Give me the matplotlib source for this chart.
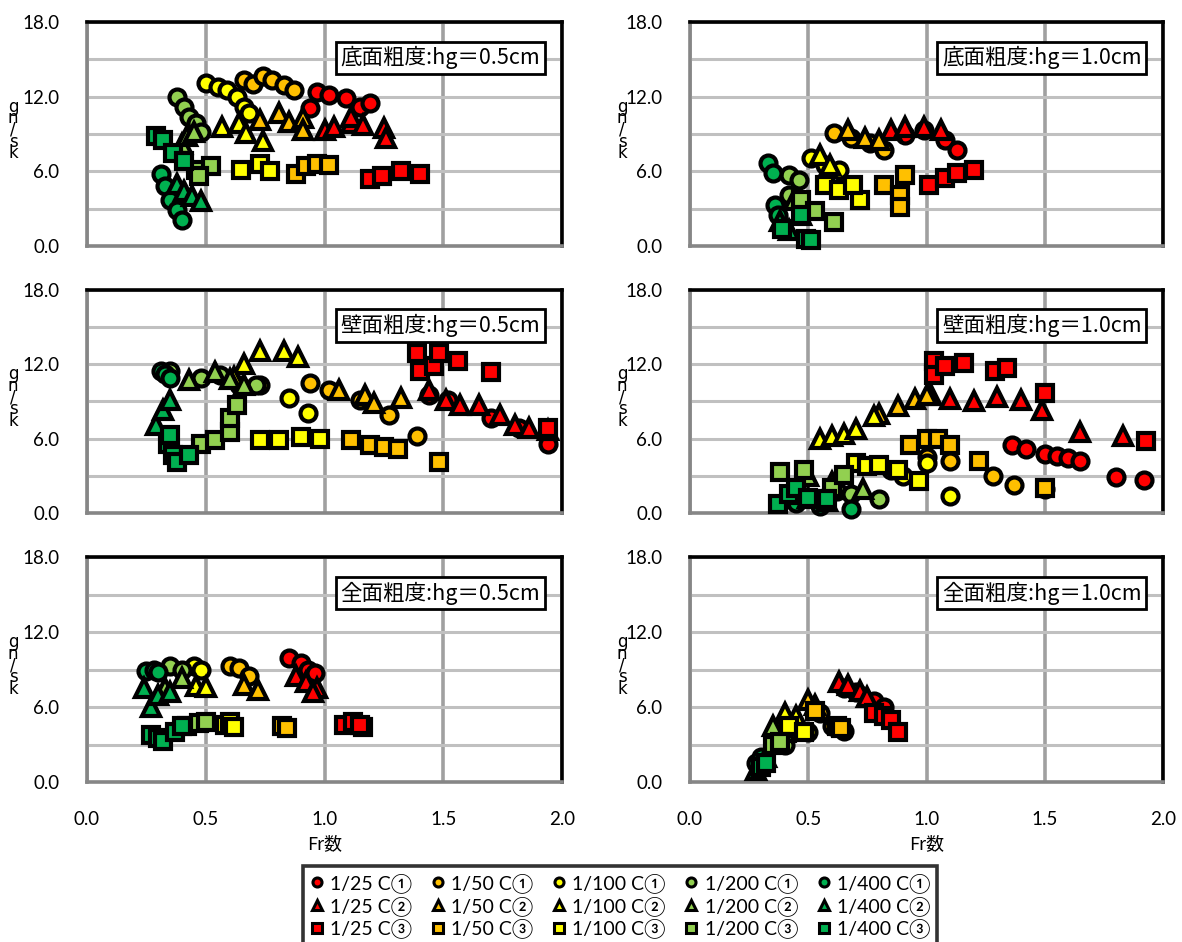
import matplotlib
matplotlib.use("Agg")
import matplotlib.pyplot as plt
from matplotlib.lines import Line2D

W, H = 1182, 942

# Series definitions
SLOPES = ["1/25", "1/50", "1/100", "1/200", "1/400"]
SLOPE_COLORS = ["#FF0000", "#FFC000", "#FFFF00", "#92D050", "#00B050"]
CASES = ["C①", "C②", "C③"]
CASE_MARKERS = ["o", "^", "s"]

# ---- 底面粗度 hg=0.5cm : {series: (Fr, value)}
bed_05 = {
    "1/25 C①": ([0.94, 0.97, 1.02, 1.09, 1.15, 1.19], [11.1, 12.4, 12.1, 11.9, 11.2, 11.5]),
    "1/50 C①": ([0.66, 0.70, 0.74, 0.78, 0.83, 0.87], [13.3, 13.0, 13.7, 13.3, 12.9, 12.5]),
    "1/100 C①": ([0.50, 0.55, 0.59, 0.63, 0.66, 0.68], [13.1, 12.8, 12.5, 12.0, 11.2, 10.7]),
    "1/200 C①": ([0.38, 0.41, 0.43, 0.46, 0.48], [12.0, 11.2, 10.4, 9.9, 9.2]),
    "1/400 C①": ([0.31, 0.33, 0.35, 0.38, 0.40], [5.8, 4.8, 3.7, 2.9, 2.1]),
    "1/25 C②": ([1.00, 1.04, 1.11, 1.11, 1.16, 1.25, 1.26], [9.3, 9.6, 9.9, 10.4, 9.7, 9.5, 8.7]),
    "1/50 C②": ([0.73, 0.81, 0.85, 0.91, 0.91], [10.1, 10.7, 10.0, 10.3, 9.3]),
    "1/100 C②": ([0.57, 0.64, 0.67, 0.74], [9.6, 9.9, 9.1, 8.4]),
    "1/200 C②": ([0.40, 0.42, 0.45], [8.2, 8.8, 9.2]),
    "1/400 C②": ([0.38, 0.41, 0.44, 0.48], [5.0, 4.4, 4.0, 3.6]),
    "1/25 C③": ([1.19, 1.24, 1.32, 1.40], [5.4, 5.6, 6.0, 5.8]),
    "1/50 C③": ([0.88, 0.92, 0.97, 1.02], [5.8, 6.4, 6.6, 6.5]),
    "1/100 C③": ([0.65, 0.73, 0.77], [6.1, 6.6, 6.0]),
    "1/200 C③": ([0.46, 0.52, 0.47], [6.1, 6.4, 5.6]),
    "1/400 C③": ([0.29, 0.32, 0.36, 0.41], [8.8, 8.5, 7.5, 6.8]),
}

# ---- 底面粗度 hg=1.0cm
bed_10 = {
    "1/25 C①": ([0.91, 0.99, 1.08, 1.13], [8.9, 9.3, 8.5, 7.7]),
    "1/50 C①": ([0.61, 0.68, 0.76, 0.82], [9.1, 8.7, 8.3, 7.7]),
    "1/100 C①": ([0.51, 0.57, 0.63], [7.1, 6.5, 6.1]),
    "1/200 C①": ([0.42, 0.46, 0.42], [5.7, 5.3, 4.1]),
    "1/400 C①": ([0.33, 0.35, 0.36, 0.37], [6.7, 5.9, 3.3, 2.5]),
    "1/25 C②": ([0.85, 0.91, 0.99, 1.06], [9.3, 9.6, 9.6, 9.3]),
    "1/50 C②": ([0.67, 0.74, 0.80], [9.3, 8.7, 8.5]),
    "1/100 C②": ([0.55, 0.59], [7.3, 6.5]),
    "1/200 C②": ([0.44, 0.47], [3.7, 2.5]),
    "1/400 C②": ([0.38, 0.42], [2.0, 1.3]),
    "1/25 C③": ([1.01, 1.08, 1.13, 1.20], [4.9, 5.5, 5.9, 6.1]),
    "1/50 C③": ([0.82, 0.89, 0.89, 0.91], [4.9, 4.1, 3.1, 5.7]),
    "1/100 C③": ([0.57, 0.63, 0.72, 0.69], [4.9, 4.5, 3.7, 4.9]),
    "1/200 C③": ([0.47, 0.53, 0.61], [3.7, 2.8, 1.9]),
    "1/400 C③": ([0.39, 0.47, 0.49, 0.51], [1.4, 2.5, 0.6, 0.5]),
}

# ---- 壁面粗度 hg=0.5cm
wall_05 = {
    "1/25 C①": ([1.44, 1.52, 1.70, 1.82, 1.94], [9.5, 9.1, 7.7, 6.9, 5.6]),
    "1/50 C①": ([0.94, 1.02, 1.15, 1.27, 1.39], [10.5, 9.9, 9.1, 7.9, 6.2]),
    "1/100 C①": ([0.73, 0.85, 0.93], [10.3, 9.3, 8.1]),
    "1/200 C①": ([0.35, 0.48, 0.56, 0.64, 0.71], [11.5, 10.9, 11.1, 10.3, 10.3]),
    "1/400 C①": ([0.31, 0.33, 0.35], [11.5, 11.2, 10.9]),
    "1/25 C②": ([1.44, 1.51, 1.57, 1.65, 1.74, 1.80, 1.86, 1.94], [9.9, 9.1, 8.7, 8.7, 7.9, 7.1, 6.9, 6.7]),
    "1/50 C②": ([1.06, 1.17, 1.21, 1.32], [9.9, 9.5, 8.9, 9.3]),
    "1/100 C②": ([0.73, 0.83, 0.89, 0.66, 0.62], [13.1, 13.1, 12.6, 12.0, 11.0]),
    "1/200 C②": ([0.43, 0.54, 0.60, 0.66], [10.7, 11.4, 10.8, 10.3]),
    "1/400 C②": ([0.29, 0.32, 0.35], [7.1, 8.3, 9.1]),
    "1/25 C③": ([1.39, 1.40, 1.46, 1.48, 1.56, 1.70, 1.94], [12.9, 11.5, 11.9, 12.9, 12.3, 11.4, 6.9]),
    "1/50 C③": ([1.11, 1.19, 1.25, 1.31, 1.48], [5.9, 5.5, 5.3, 5.2, 4.1]),
    "1/100 C③": ([0.73, 0.81, 0.90, 0.98], [5.9, 5.9, 6.1, 6.0]),
    "1/200 C③": ([0.48, 0.54, 0.60, 0.60, 0.63], [5.6, 5.9, 6.5, 7.7, 8.7]),
    "1/400 C③": ([0.34, 0.36, 0.38, 0.43, 0.35], [5.6, 4.7, 4.1, 4.7, 6.3]),
}

# ---- 壁面粗度 hg=1.0cm
wall_10 = {
    "1/25 C①": ([1.36, 1.42, 1.50, 1.55, 1.60, 1.65, 1.80, 1.92], [5.5, 5.2, 4.8, 4.6, 4.4, 4.2, 2.9, 2.7]),
    "1/50 C①": ([1.00, 1.10, 1.28, 1.37, 1.50], [4.5, 4.2, 3.0, 2.3, 1.9]),
    "1/100 C①": ([0.85, 0.90, 1.00, 1.10], [3.5, 3.0, 4.0, 1.4]),
    "1/200 C①": ([0.62, 0.68, 0.80], [1.8, 1.5, 1.1]),
    "1/400 C①": ([0.45, 0.55, 0.68], [0.8, 0.6, 0.3]),
    "1/25 C②": ([1.02, 1.10, 1.20, 1.30, 1.40, 1.49, 1.65, 1.83], [9.5, 9.2, 9.0, 9.4, 9.1, 8.3, 6.5, 6.2]),
    "1/50 C②": ([0.80, 0.88, 0.95, 1.00], [8.0, 8.6, 9.2, 9.5]),
    "1/100 C②": ([0.55, 0.60, 0.65, 0.70, 0.78], [6.0, 6.2, 6.4, 6.8, 7.8]),
    "1/200 C②": ([0.50, 0.60, 0.73], [3.0, 2.5, 1.9]),
    "1/400 C②": ([0.43, 0.50, 0.58], [1.5, 1.2, 1.0]),
    "1/25 C③": ([1.03, 1.03, 1.08, 1.16, 1.29, 1.34, 1.50, 1.93], [12.3, 11.1, 11.9, 12.1, 11.5, 11.7, 9.7, 5.8]),
    "1/50 C③": ([0.93, 1.00, 1.05, 1.10, 1.22, 1.50], [5.5, 6.0, 6.0, 5.5, 4.2, 2.0]),
    "1/100 C③": ([0.70, 0.75, 0.80, 0.88, 0.97], [4.0, 3.8, 3.9, 3.5, 2.6]),
    "1/200 C③": ([0.38, 0.48, 0.60, 0.65], [3.3, 3.5, 2.0, 3.1]),
    "1/400 C③": ([0.37, 0.42, 0.45, 0.50, 0.58], [0.7, 1.5, 2.0, 1.2, 1.1]),
}

# ---- 全面粗度 hg=0.5cm
full_05 = {
    "1/25 C①": ([0.85, 0.90, 0.93, 0.96], [9.9, 9.5, 9.0, 8.7]),
    "1/50 C①": ([0.60, 0.64, 0.68], [9.3, 9.1, 8.5]),
    "1/100 C①": ([0.45, 0.48], [9.3, 9.0]),
    "1/200 C①": ([0.35, 0.40], [9.3, 9.0]),
    "1/400 C①": ([0.25, 0.28, 0.30], [8.9, 9.0, 8.8]),
    "1/25 C②": ([0.88, 0.92, 0.97, 0.95], [8.5, 8.0, 7.5, 7.2]),
    "1/50 C②": ([0.66, 0.72], [7.8, 7.4]),
    "1/100 C②": ([0.46, 0.50], [7.7, 7.6]),
    "1/200 C②": ([0.33, 0.40], [7.5, 8.3]),
    "1/400 C②": ([0.24, 0.27, 0.30, 0.35], [7.5, 6.0, 7.0, 7.2]),
    "1/25 C③": ([1.08, 1.12, 1.16, 1.15], [4.6, 4.8, 4.4, 4.6]),
    "1/50 C③": ([0.82, 0.84], [4.5, 4.3]),
    "1/100 C③": ([0.58, 0.60, 0.62], [4.6, 4.8, 4.4]),
    "1/200 C③": ([0.42, 0.47, 0.50], [4.5, 4.7, 4.8]),
    "1/400 C③": ([0.27, 0.30, 0.32, 0.37, 0.40], [3.8, 3.5, 3.3, 4.0, 4.5]),
}

# ---- 全面粗度 hg=1.0cm
full_10 = {
    "1/25 C①": ([0.65, 0.70, 0.78, 0.82], [7.5, 7.2, 6.5, 6.0]),
    "1/50 C①": ([0.55, 0.60, 0.65], [5.5, 4.5, 4.1]),
    "1/100 C①": ([0.45, 0.50], [4.5, 4.0]),
    "1/200 C①": ([0.35, 0.40], [3.5, 3.0]),
    "1/400 C①": ([0.28, 0.30], [1.5, 2.0]),
    "1/25 C②": ([0.63, 0.67, 0.72, 0.75], [8.0, 7.8, 7.3, 6.8]),
    "1/50 C②": ([0.50, 0.53], [6.6, 6.2]),
    "1/100 C②": ([0.40, 0.45], [5.5, 5.3]),
    "1/200 C②": ([0.35, 0.40], [4.5, 4.0]),
    "1/400 C②": ([0.28, 0.32], [1.0, 2.0]),
    "1/25 C③": ([0.78, 0.82, 0.85, 0.88], [5.5, 5.3, 5.0, 4.0]),
    "1/50 C③": ([0.53, 0.62, 0.64], [5.7, 4.5, 4.3]),
    "1/100 C③": ([0.42, 0.48], [4.5, 4.0]),
    "1/200 C③": ([0.35, 0.38], [3.0, 3.2]),
    "1/400 C③": ([0.30, 0.32], [1.2, 1.5]),
}

PANELS = [
    (bed_05, "底面粗度:hg＝0.5cm"),
    (bed_10, "底面粗度:hg＝1.0cm"),
    (wall_05, "壁面粗度:hg＝0.5cm"),
    (wall_10, "壁面粗度:hg＝1.0cm"),
    (full_05, "全面粗度:hg＝0.5cm"),
    (full_10, "全面粗度:hg＝1.0cm"),
]

X_TICKS = [0.0, 0.5, 1.0, 1.5, 2.0]
Y_TICKS = [0.0, 6.0, 12.0, 18.0]
Y_MINOR = [3.0, 9.0, 15.0]

NUM_FONT = ["Lato", "DejaVu Sans"]
JP_FONT = ["Noto Sans CJK JP", "DejaVu Sans"]
plt.rcParams["font.family"] = ["Lato", "Noto Sans CJK JP", "DejaVu Sans"]

fig = plt.figure(figsize=(W / 100, H / 100), dpi=100)

COLS = [(87, 562), (690, 1163)]
ROWS = [(22, 246), (290, 513), (557, 782)]


def px_rect(l, t, r, b):
    return [l / W, 1 - b / H, (r - l) / W, (b - t) / H]


order = [(s, c) for c in range(3) for s in range(5)]
MSIZE = {0: 11.5, 1: 12.5, 2: 11.5}

for idx, (data, title) in enumerate(PANELS):
    row, col = divmod(idx, 2)
    l, r = COLS[col]
    t, b = ROWS[row]
    ax = fig.add_axes(px_rect(l, t, r, b))
    ax.set_xlim(0, 2.0)
    ax.set_ylim(0, 18.0)

    for s, c in order:
        name = f"{SLOPES[s]} {CASES[c]}"
        fr, val = data[name]
        ax.plot(fr, val, linestyle="none", marker=CASE_MARKERS[c],
                markersize=MSIZE[c],
                markerfacecolor=SLOPE_COLORS[s], markeredgecolor="black",
                markeredgewidth=3.0, zorder=3, clip_on=False)

    ax.set_xticks(X_TICKS)
    ax.set_yticks(Y_TICKS)
    ax.set_yticks(Y_MINOR, minor=True)
    ax.tick_params(which="both", length=0)
    ax.grid(True, axis="x", color="#A0A0A0", linewidth=2.6, zorder=0)
    ax.grid(True, axis="y", which="both", color="#C0C0C0", linewidth=2.2, zorder=0)
    ax.set_axisbelow(True)
    ax.set_yticklabels([f"{v:.1f}" for v in Y_TICKS], fontsize=13.5, family=NUM_FONT)
    ax.tick_params(axis="y", pad=20)
    if row == 2:
        ax.set_xticklabels([f"{v:.1f}" for v in X_TICKS], fontsize=13.5, family=NUM_FONT)
        ax.tick_params(axis="x", pad=21)
        ax.set_xlabel("Fr数", fontsize=13, family=JP_FONT, labelpad=5)
    else:
        ax.set_xticklabels([])

    for side in ("top", "right"):
        ax.spines[side].set_color("black")
        ax.spines[side].set_linewidth(2.6)
    for side in ("left", "bottom"):
        ax.spines[side].set_color("#868686")
        ax.spines[side].set_linewidth(2.6)

    ax.text(0.744, 0.84, title, transform=ax.transAxes, ha="center", va="center",
            fontsize=15.5, family=JP_FONT, zorder=5,
            bbox=dict(boxstyle="square,pad=0.22", facecolor="white",
                      edgecolor="black", linewidth=2.0))

    # stacked axis label
    lx = 13 if col == 0 else 622
    fig.text(lx / W, 1 - ((t + b) / 2 - 4) / H, "g\nn\n/\ns\nk", ha="center", va="center",
             fontsize=12, linespacing=0.55, family=["DejaVu Sans"])

handles = []
labels = []
for s in range(5):
    for c in range(3):
        handles.append(Line2D([], [], linestyle="none", marker=CASE_MARKERS[c],
                              markersize=6.5, markerfacecolor=SLOPE_COLORS[s],
                              markeredgecolor="black", markeredgewidth=2.2))
        labels.append(f"{SLOPES[s]} {CASES[c]}")

leg = fig.legend(handles, labels, ncol=5, loc="upper left",
                 bbox_to_anchor=(303 / W, 1 - 866 / H), frameon=True,
                 handlelength=0.7, handletextpad=0.35,
                 columnspacing=0.95, labelspacing=0.16, borderpad=0.35,
                 borderaxespad=0,
                 prop={"family": ["Lato", "Noto Sans CJK JP"], "size": 14})
leg.get_frame().set_edgecolor("black")
leg.get_frame().set_linewidth(2.6)
leg.get_frame().set_boxstyle("square,pad=0")

fig.savefig("out.png", dpi=100)
